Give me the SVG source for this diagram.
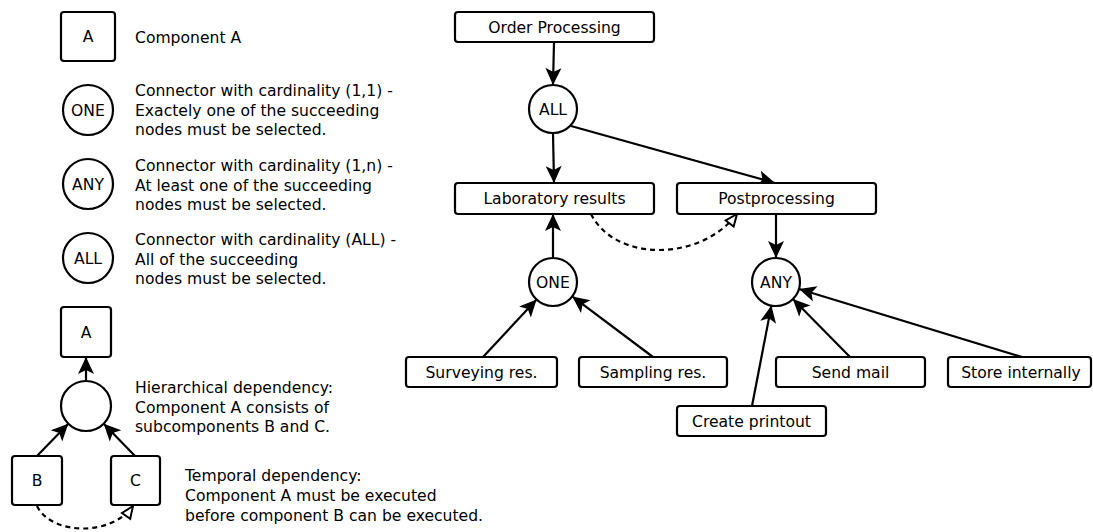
<svg xmlns="http://www.w3.org/2000/svg" width="1093" height="532" viewBox="0 0 1093 532">
<style>
text{font-family:"DejaVu Sans","Liberation Sans",sans-serif;font-size:15.6px;fill:#000}
.c{text-anchor:middle}
.box{fill:#fff;stroke:#000;stroke-width:2.2}
.circ{fill:#fff;stroke:#000;stroke-width:2.2}
.edge{stroke:#000;stroke-width:2.2;fill:none;marker-end:url(#ah)}
.dash{stroke:#000;stroke-width:2.2;fill:none;stroke-dasharray:5,4;marker-end:url(#oh)}
</style>
<defs>
<marker id="ah" markerUnits="userSpaceOnUse" markerWidth="18" markerHeight="16" refX="17" refY="8" orient="auto" overflow="visible">
<path d="M17,8 L0,0 L4,8 L0,16 Z" fill="#000"/>
</marker>
<marker id="oh" markerUnits="userSpaceOnUse" markerWidth="14" markerHeight="12" refX="12" refY="5" orient="auto" overflow="visible">
<path d="M12,5 L0,0 L0,10 Z" fill="#fff" stroke="#000" stroke-width="2" stroke-linejoin="miter"/>
</marker>
</defs>

<g id="connectors">
<line class="edge" x1="554" y1="42" x2="553" y2="85"/>
<line class="edge" x1="553" y1="133" x2="554" y2="183"/>
<line class="edge" x1="571" y1="126" x2="775" y2="183"/>
<path class="dash" d="M591,214 C615,262 700,262 737,214"/>
<line class="edge" x1="776" y1="214" x2="776" y2="258"/>
<line class="edge" x1="553" y1="258" x2="553" y2="214"/>
<line class="edge" x1="483" y1="357" x2="536.6" y2="299.5"/>
<line class="edge" x1="653" y1="357" x2="572.2" y2="296.4"/>
<line class="edge" x1="752" y1="406" x2="771.4" y2="305.6"/>
<line class="edge" x1="850" y1="357" x2="792.9" y2="299.1"/>
<line class="edge" x1="1022" y1="357" x2="799" y2="289"/>
<line class="edge" x1="86" y1="381" x2="86" y2="357"/>
<line class="edge" x1="37" y1="456" x2="68.3" y2="423.7"/>
<line class="edge" x1="135" y1="456" x2="103.7" y2="423.7"/>
<path class="dash" d="M37,506 C52,536 112,536 133,506"/>
</g>

<g id="order-processing"><rect class="box" x="455" y="12" width="199" height="30" rx="3"/><text class="c" x="554.5" y="32.5">Order Processing</text></g>
<g id="all-node"><circle class="circ" cx="553" cy="109" r="24"/><text class="c" x="553" y="114.5">ALL</text></g>
<g id="laboratory-results"><rect class="box" x="455" y="183" width="199" height="31" rx="3"/><text class="c" x="554.5" y="204">Laboratory results</text></g>
<g id="postprocessing"><rect class="box" x="677" y="183" width="199" height="31" rx="3"/><text class="c" x="776.5" y="204">Postprocessing</text></g>
<g id="one-node"><circle class="circ" cx="553" cy="282" r="24"/><text class="c" x="553" y="287.5">ONE</text></g>
<g id="any-node"><circle class="circ" cx="776" cy="282" r="24"/><text class="c" x="776" y="287.5">ANY</text></g>
<g id="surveying-res"><rect class="box" x="406" y="357" width="151" height="30" rx="3"/><text class="c" x="481.5" y="377.5">Surveying res.</text></g>
<g id="sampling-res"><rect class="box" x="579" y="357" width="148" height="30" rx="3"/><text class="c" x="653" y="377.5">Sampling res.</text></g>
<g id="send-mail"><rect class="box" x="776" y="357" width="149" height="30" rx="3"/><text class="c" x="850.5" y="377.5">Send mail</text></g>
<g id="store-internally"><rect class="box" x="948" y="357" width="143" height="30" rx="3"/><text class="c" x="1021" y="377.5">Store internally</text></g>
<g id="create-printout"><rect class="box" x="677" y="406" width="149" height="30" rx="3"/><text class="c" x="751.5" y="426.5">Create printout</text></g>

<g id="legend-component"><rect class="box" x="61" y="12" width="54" height="49" rx="3"/><text class="c" x="88" y="42">A</text><text x="135" y="42.5">Component A</text></g>
<g id="legend-one"><circle class="circ" cx="88" cy="110" r="25"/><text class="c" x="88" y="115.5">ONE</text>
<text x="135" y="96">Connector with cardinality (1,1) -</text><text x="135" y="115.5">Exactely one of the succeeding</text><text x="135" y="135">nodes must be selected.</text></g>
<g id="legend-any"><circle class="circ" cx="88" cy="184" r="25"/><text class="c" x="88" y="189.5">ANY</text>
<text x="135" y="171">Connector with cardinality (1,n) -</text><text x="135" y="190.5">At least one of the succeeding</text><text x="135" y="210">nodes must be selected.</text></g>
<g id="legend-all"><circle class="circ" cx="88" cy="258" r="25"/><text class="c" x="88" y="263.5">ALL</text>
<text x="135" y="245">Connector with cardinality (ALL) -</text><text x="135" y="264.5">All of the succeeding</text><text x="135" y="284">nodes must be selected.</text></g>
<g id="legend-a"><rect class="box" x="61" y="307" width="50" height="50" rx="3"/><text class="c" x="86" y="338">A</text></g>
<g id="legend-circle"><circle class="circ" cx="86" cy="406" r="25"/></g>
<g id="legend-b"><rect class="box" x="12" y="456" width="50" height="49" rx="3"/><text class="c" x="37" y="486">B</text></g>
<g id="legend-c"><rect class="box" x="111" y="456" width="49" height="49" rx="3"/><text class="c" x="135.5" y="486">C</text></g>
<g id="legend-hier"><text x="135" y="392.5">Hierarchical dependency:</text><text x="135" y="412.5">Component A consists of</text><text x="135" y="432">subcomponents B and C.</text></g>
<g id="legend-temp"><text x="185" y="480.5">Temporal dependency:</text><text x="185" y="500.5">Component A must be executed</text><text x="185" y="520.5">before component B can be executed.</text></g>
</svg>
